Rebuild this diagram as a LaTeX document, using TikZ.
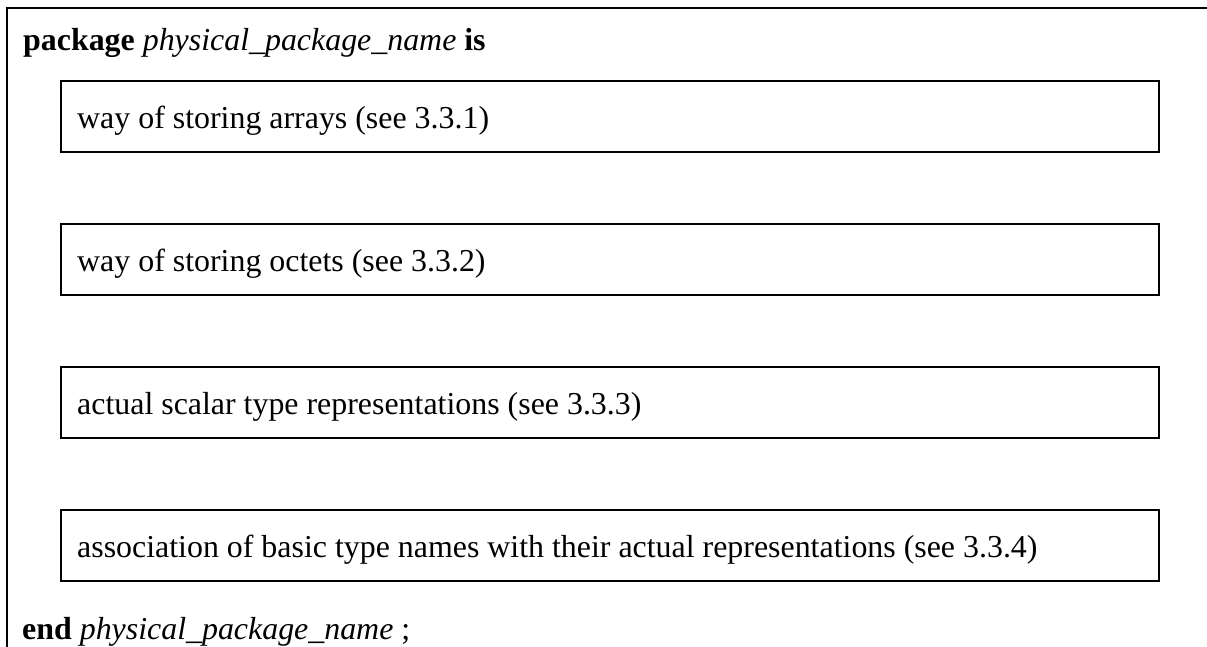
\documentclass[tikz,border=0pt]{standalone}
\usepackage{fontspec}
\setmainfont{Liberation Serif}
\begin{document}
\begin{tikzpicture}[x=1pt,y=1pt,
  framebox/.style={draw=black,line width=2.2pt,rectangle,minimum width=1098pt,minimum height=71pt,anchor=north west,inner sep=0pt},
  txt/.style={anchor=base west,inner sep=0pt,font=\fontsize{31.9}{36}\selectfont},
  frameline/.style={line width=2.2pt,line cap=rect}]
\useasboundingbox (0,0) rectangle (1207,-646);
\coordinate (ftr) at (1207,-8);
\coordinate (ftl) at (7,-8);
\coordinate (fbl) at (7,-648);
\draw[frameline] (ftr) -- (ftl) -- (fbl);
\node[txt] (head) at (23,-50) {\textbf{package} \textit{physical\_package\_name} \textbf{is}};
\node[framebox] (b1) at (60,-80) {};
\node[framebox] (b2) at (60,-223) {};
\node[framebox] (b3) at (60,-366) {};
\node[framebox] (b4) at (60,-509) {};
\node[txt] (t1) at ([shift={(17,-48)}]b1.north west) {way of storing arrays (see 3.3.1)};
\node[txt] (t2) at ([shift={(17,-48)}]b2.north west) {way of storing octets (see 3.3.2)};
\node[txt] (t3) at ([shift={(17,-48)}]b3.north west) {actual scalar type representations (see 3.3.3)};
\node[txt] (t4) at ([shift={(17,-48)}]b4.north west) {association of basic type names with their actual representations (see 3.3.4)};
\node[txt] (foot) at (22,-639) {\textbf{end} \textit{physical\_package\_name} ;};
\end{tikzpicture}
\end{document}
